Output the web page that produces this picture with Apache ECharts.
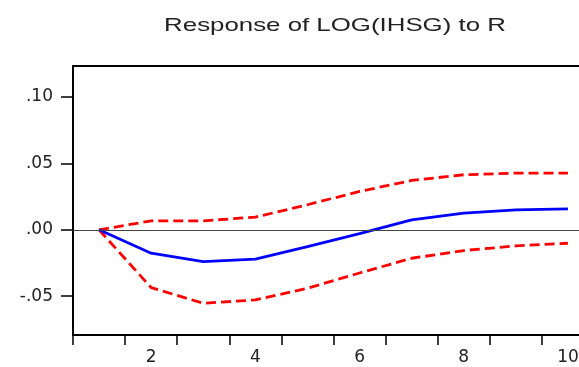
<!DOCTYPE html>
<html>
<head>
<meta charset="utf-8">
<script src="https://cdn.jsdelivr.net/npm/echarts@6/dist/echarts.min.js"></script>
<style>
html,body{margin:0;padding:0;background:#fff;}
#chart{width:579px;height:367px;}
</style>
</head>
<body>
<div id="chart"></div>
<script>
var periods = ['1','2','3','4','5','6','7','8','9','10'];
var response = [0, -0.0176, -0.0239, -0.0221, -0.0126, -0.0028, 0.0075, 0.0126, 0.0151, 0.0158];
var upperBand = [0, 0.0068, 0.0068, 0.0096, 0.0189, 0.0289, 0.0372, 0.0415, 0.0427, 0.0427];
var lowerBand = [0, -0.0435, -0.0553, -0.0528, -0.0440, -0.0325, -0.0214, -0.0156, -0.0121, -0.0101];
var yTicks = [-0.05, 0, 0.05, 0.10];
var titleText = 'Response of LOG(IHSG) to R';

function fmt(v) {
  var s = Math.abs(v).toFixed(2).replace(/^0/, '');
  return (v < -1e-9 ? '-' : '') + s;
}

var chart = echarts.init(document.getElementById('chart'), null, {renderer: 'canvas'});
var labelFont = {fontFamily: 'DejaVu Sans', fontSize: 17, color: '#222'};
chart.setOption({
  animation: false,
  backgroundColor: '#fff',
  graphic: [{
    type: 'text',
    x: 335, y: 26,
    scaleX: 1.36,
    style: {
      text: titleText,
      fontFamily: 'Liberation Sans',
      fontSize: 19,
      fill: '#222',
      textAlign: 'center',
      textVerticalAlign: 'middle'
    }
  }],
  grid: {
    left: 73, top: 66, height: 269, width: 521,
    outerBoundsMode: 'none',
    containLabel: false,
    show: true, borderColor: '#000', borderWidth: 2, backgroundColor: '#fff'
  },
  xAxis: {
    type: 'category',
    data: periods,
    boundaryGap: true,
    axisLine: {show: true, onZero: false, lineStyle: {color: '#000', width: 2}},
    axisTick: {show: true, interval: 0, length: 10, lineStyle: {color: '#000', width: 1.5}},
    axisLabel: Object.assign({
      interval: function (idx) { return idx % 2 === 1; },
      margin: 14
    }, labelFont),
    splitLine: {show: false}
  },
  yAxis: {
    type: 'value',
    min: -0.0792,
    max: 0.1234,
    axisLine: {show: true, onZero: false, lineStyle: {color: '#000', width: 2}},
    axisTick: {show: true, length: 12, customValues: yTicks, lineStyle: {color: '#000', width: 1.5}},
    axisLabel: Object.assign({
      customValues: yTicks,
      margin: 20,
      formatter: fmt
    }, labelFont),
    splitLine: {show: false}
  },
  series: [
    {
      type: 'line',
      data: upperBand,
      symbol: 'none',
      lineStyle: {color: '#ff0000', width: 2.8, type: [10, 5]},
      z: 3
    },
    {
      type: 'line',
      data: lowerBand,
      symbol: 'none',
      lineStyle: {color: '#ff0000', width: 2.8, type: [10, 5]},
      z: 3
    },
    {
      type: 'line',
      data: response,
      symbol: 'none',
      lineStyle: {color: '#0000ff', width: 2.8},
      z: 4,
      markLine: {
        silent: true,
        symbol: 'none',
        label: {show: false},
        lineStyle: {color: '#444', width: 1.2, type: 'solid'},
        data: [{yAxis: 0}]
      }
    }
  ]
});
</script>
</body>
</html>
